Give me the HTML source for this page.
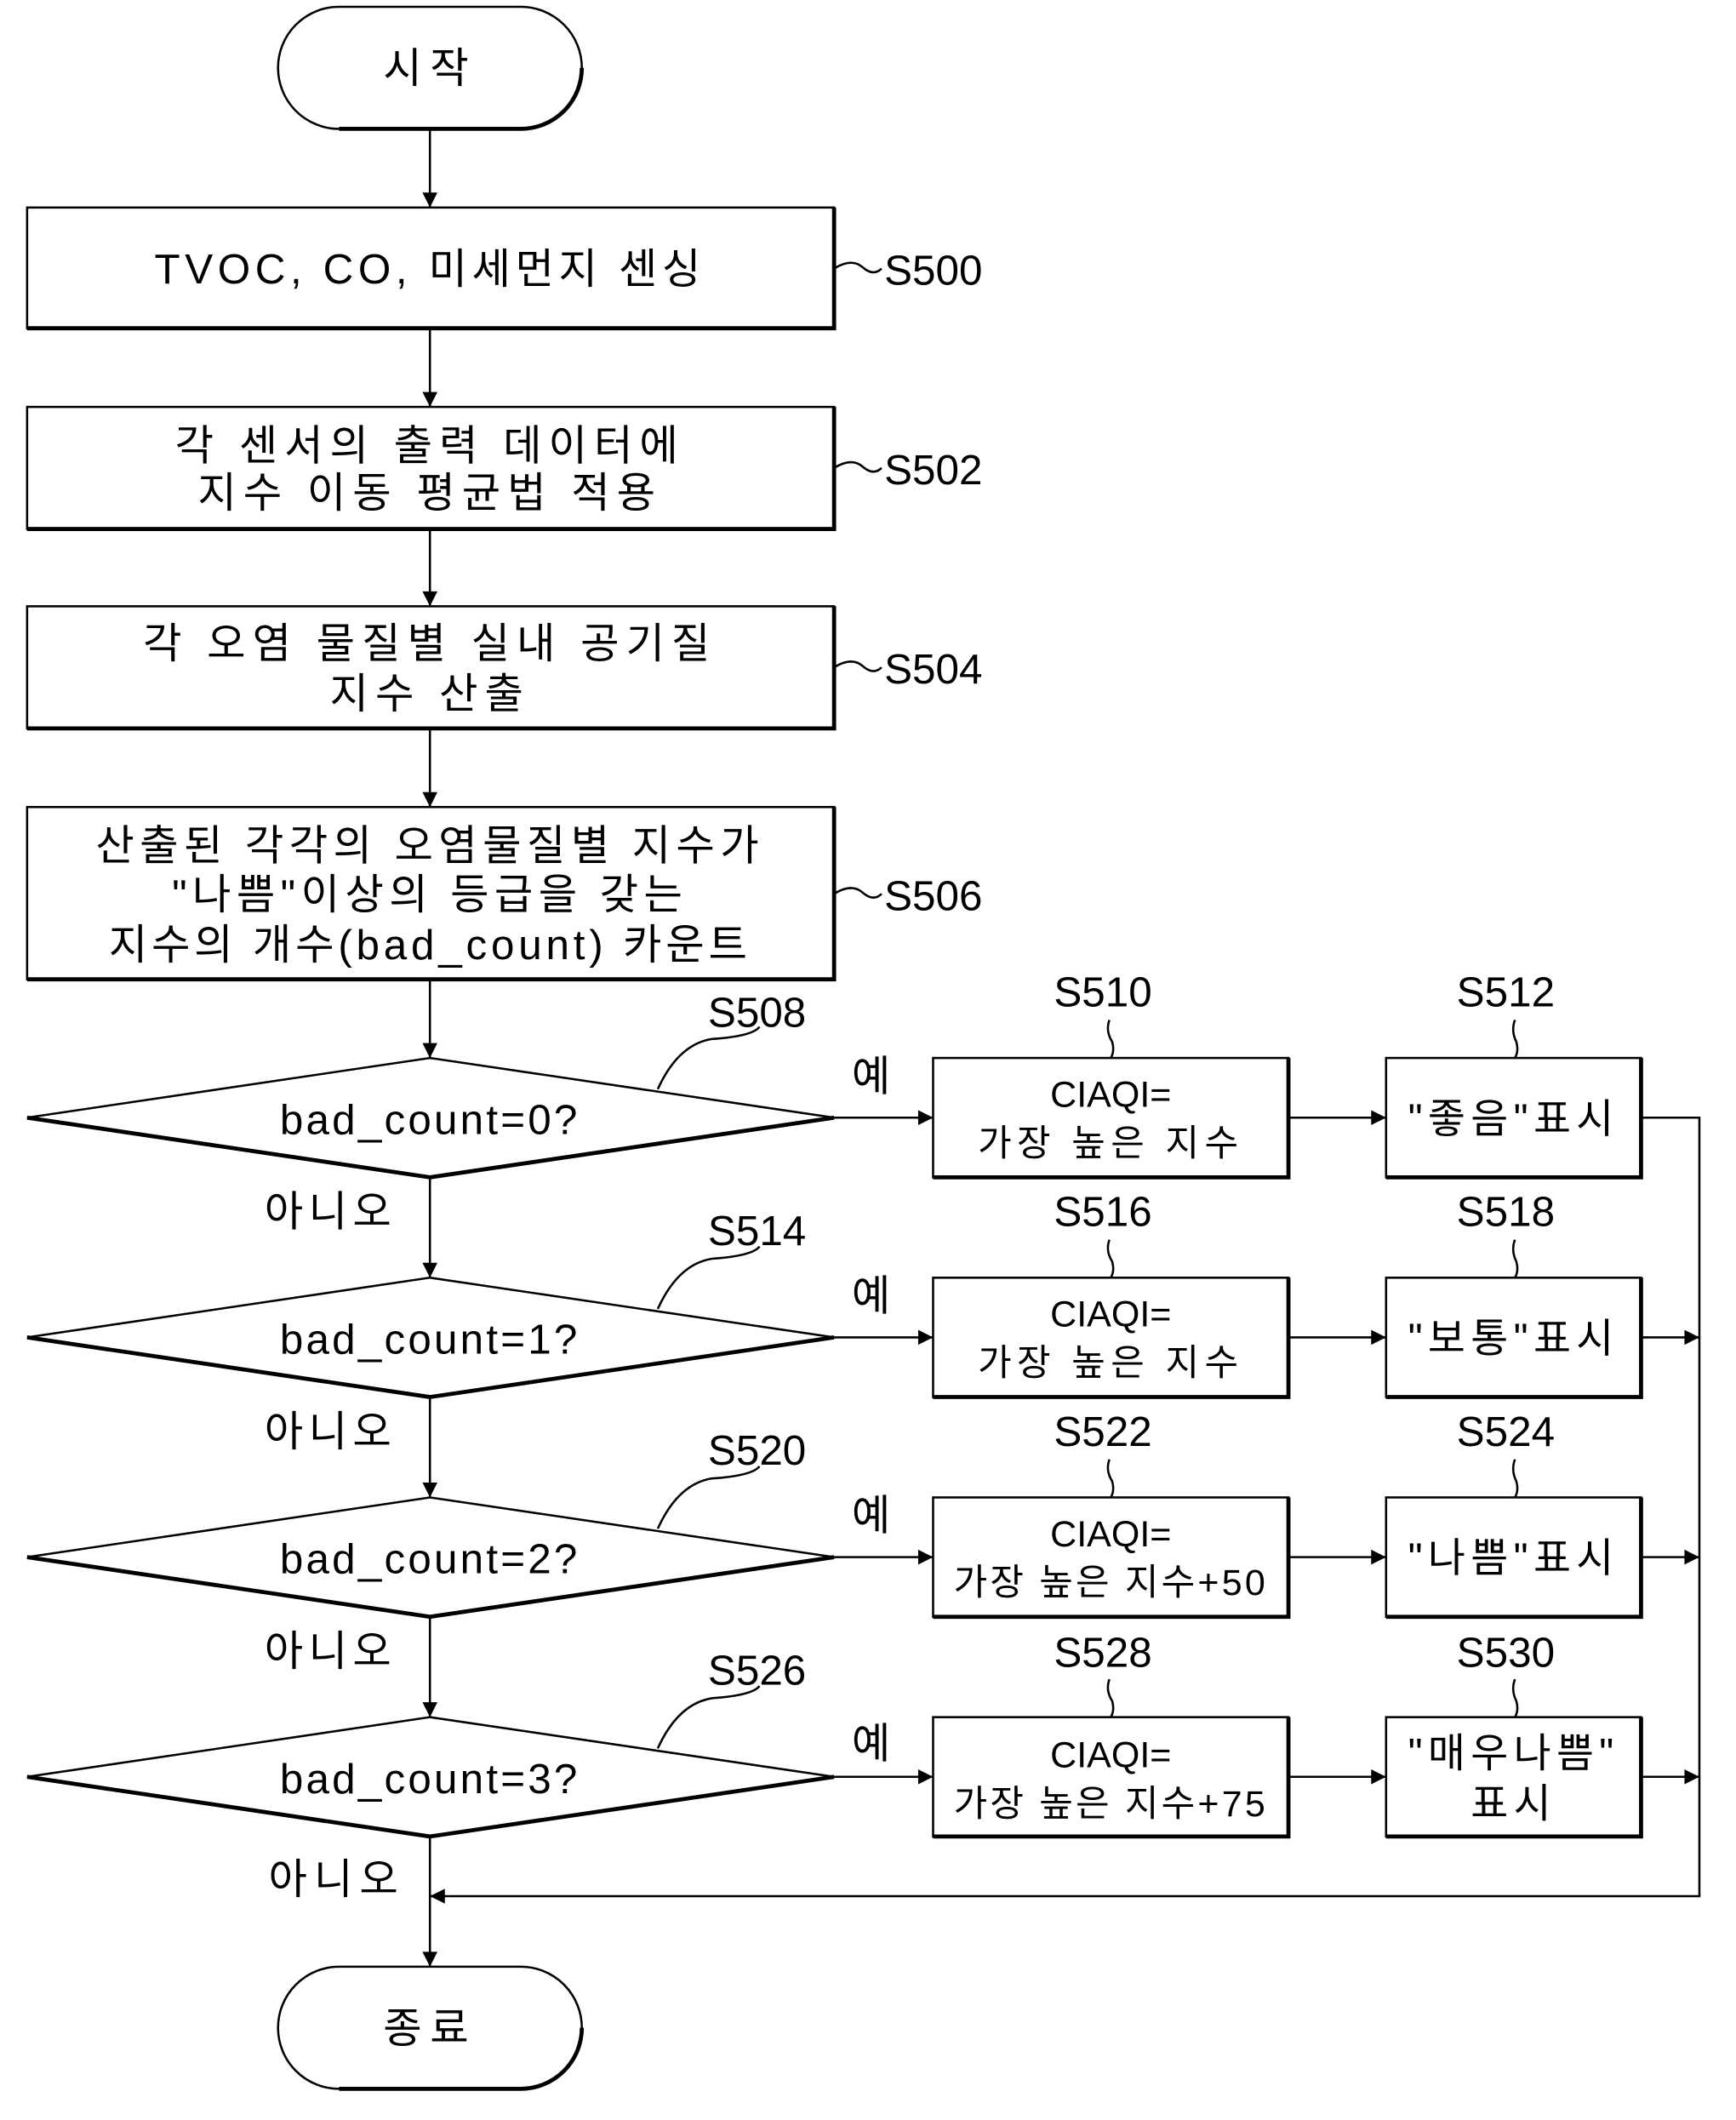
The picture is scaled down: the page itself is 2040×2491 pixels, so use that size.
<!DOCTYPE html>
<html><head><meta charset="utf-8"><style>
html,body{margin:0;padding:0;background:#fff;}
svg{display:block;}
text{font-family:"Liberation Sans","Noto Sans CJK KR","NanumGothic",sans-serif;fill:#000;}
</style></head><body>
<svg width="2040" height="2491" viewBox="0 0 1280 1563" preserveAspectRatio="none" xmlns="http://www.w3.org/2000/svg">
<defs>
<marker id="a" viewBox="0 0 10 10" refX="10" refY="5" markerWidth="16" markerHeight="11" markerUnits="userSpaceOnUse" orient="auto"><path d="M0,0 L10,5 L0,10 z" fill="#000"/></marker>
</defs>
<g stroke="#000" fill="none" stroke-width="1.6">
<rect x="205" y="5" width="224" height="90" rx="45"/>
<path d="M429,50 A45,45 0 0 1 384,95 H250" stroke-width="3"/>
<rect x="205" y="1450" width="224" height="90" rx="45"/>
<path d="M429,1495 A45,45 0 0 1 384,1540 H250" stroke-width="3"/>
<rect x="20" y="153" width="595" height="89"/>
<rect x="20" y="300" width="595" height="90"/>
<rect x="20" y="447" width="595" height="90"/>
<rect x="20" y="595" width="595" height="127"/>
<path d="M20,242 H615 V153 M20,390 H615 V300 M20,537 H615 V447 M20,722 H615 V595" stroke-width="3"/>
<line x1="317" y1="95" x2="317" y2="153" marker-end="url(#a)"/>
<line x1="317" y1="242" x2="317" y2="300" marker-end="url(#a)"/>
<line x1="317" y1="390" x2="317" y2="447" marker-end="url(#a)"/>
<line x1="317" y1="537" x2="317" y2="595" marker-end="url(#a)"/>
<line x1="317" y1="722" x2="317" y2="780" marker-end="url(#a)"/>
<line x1="317" y1="868" x2="317" y2="942" marker-end="url(#a)"/>
<line x1="317" y1="1030" x2="317" y2="1104" marker-end="url(#a)"/>
<line x1="317" y1="1192" x2="317" y2="1266" marker-end="url(#a)"/>
<line x1="317" y1="1354" x2="317" y2="1450" marker-end="url(#a)"/>
<path d="M615,198 Q628,190 636,197 Q644,204 650,198"/>
<path d="M615,345 Q628,337 636,344 Q644,351 650,345"/>
<path d="M615,492 Q628,484 636,491 Q644,498 650,492"/>
<path d="M615,659 Q628,651 636,658 Q644,665 650,659"/>
</g>
<g stroke="#000" fill="none" stroke-width="1.6">
<g id="d">
<path d="M20,824 L317,780 L615,824"/>
<path d="M20,824 L317,868 L615,824" stroke-width="3"/>
<path d="M485,803 Q500,770 525,766 Q555,764 560,757"/>
<line x1="615" y1="824" x2="688" y2="824" marker-end="url(#a)"/>
<rect x="688" y="780" width="262" height="88"/>
<path d="M688,868 H950 V780" stroke-width="3"/>
<line x1="950" y1="824" x2="1022" y2="824" marker-end="url(#a)"/>
<rect x="1022" y="780" width="188" height="88"/>
<path d="M1022,868 H1210 V780" stroke-width="3"/>
<path d="M818,752 Q815,760 820,768 Q822,775 819,780"/>
<path d="M1117,752 Q1114,760 1118,768 Q1120,775 1117,780"/>
</g>
<use href="#d" y="162"/>
<use href="#d" y="324"/>
<use href="#d" y="486"/>
<path d="M1210,824 H1253 V1398 H317" marker-end="url(#a)"/>
<line x1="1210" y1="986" x2="1253" y2="986" marker-end="url(#a)"/>
<line x1="1210" y1="1148" x2="1253" y2="1148" marker-end="url(#a)"/>
<line x1="1210" y1="1310" x2="1253" y2="1310" marker-end="url(#a)"/>
</g>
<g font-size="31" text-anchor="middle">
<text x="317" y="61" letter-spacing="6">시작</text>
<text x="317" y="1506" letter-spacing="6">종료</text>
<text x="317" y="209" letter-spacing="3.5">TVOC, CO, 미세먼지 센싱</text>
<text x="317" y="339" letter-spacing="5">각 센서의 출력 데이터에</text>
<text x="317" y="374" letter-spacing="5">지수 이동 평균법 적용</text>
<text x="317" y="485" letter-spacing="5">각 오염 물질별 실내 공기질</text>
<text x="317" y="522" letter-spacing="5">지수 산출</text>
<text x="317" y="634" letter-spacing="4">산출된 각각의 오염물질별 지수가</text>
<text x="317" y="670" letter-spacing="4">"나쁨"이상의 등급을 갖는</text>
<text x="317" y="707" letter-spacing="3">지수의 개수(bad_count) 카운트</text>
<text x="317" y="836" letter-spacing="2">bad_count=0?</text>
<text x="317" y="998" letter-spacing="2">bad_count=1?</text>
<text x="317" y="1160" letter-spacing="2">bad_count=2?</text>
<text x="317" y="1322" letter-spacing="2">bad_count=3?</text>
</g>
<g font-size="31">
<text x="652" y="210">S500</text>
<text x="652" y="357">S502</text>
<text x="652" y="504">S504</text>
<text x="652" y="671">S506</text>
<text x="522" y="757">S508</text>
<text x="522" y="918">S514</text>
<text x="522" y="1080">S520</text>
<text x="522" y="1242">S526</text>
<text x="777" y="742">S510</text>
<text x="777" y="904">S516</text>
<text x="777" y="1066">S522</text>
<text x="777" y="1229">S528</text>
<text x="1074" y="742">S512</text>
<text x="1074" y="904">S518</text>
<text x="1074" y="1066">S524</text>
<text x="1074" y="1229">S530</text>
<text x="628" y="804">예</text>
<text x="628" y="966">예</text>
<text x="628" y="1128">예</text>
<text x="628" y="1296">예</text>
<text x="195" y="904" letter-spacing="4">아니오</text>
<text x="195" y="1066" letter-spacing="4">아니오</text>
<text x="195" y="1228" letter-spacing="4">아니오</text>
<text x="198" y="1396" letter-spacing="5">아니오</text>
</g>
<g font-size="27" text-anchor="middle">
<text x="819" y="816">CIAQI=</text>
<text x="819" y="852" letter-spacing="4">가장 높은 지수</text>
<text x="819" y="978">CIAQI=</text>
<text x="819" y="1014" letter-spacing="4">가장 높은 지수</text>
<text x="819" y="1140">CIAQI=</text>
<text x="819" y="1176" letter-spacing="2">가장 높은 지수+50</text>
<text x="819" y="1303">CIAQI=</text>
<text x="819" y="1339" letter-spacing="2">가장 높은 지수+75</text>
</g>
<g font-size="30" text-anchor="middle" letter-spacing="4">
<text x="1116" y="835">"좋음"표시</text>
<text x="1116" y="997">"보통"표시</text>
<text x="1116" y="1159">"나쁨"표시</text>
<text x="1116" y="1303">"매우나쁨"</text>
<text x="1116" y="1340">표시</text>
</g>
</svg>
</body></html>
